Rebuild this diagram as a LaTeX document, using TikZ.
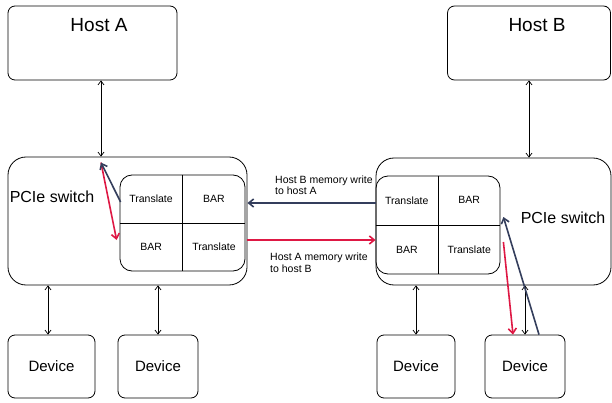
\documentclass[tikz,border=0pt]{standalone}
\usepackage{fontspec}
\setmainfont{Liberation Sans}
\usetikzlibrary{
    positioning,  % Relative positioning
    arrows.meta,  % Modern arrow tips
    calc          % Coordinate calculations
}
\definecolor{navyline}{RGB}{52,62,92}
\definecolor{redline}{RGB}{222,24,68}

\tikzset{
    box/.style={draw, line width=0.8pt, rounded corners=7pt, inner sep=0pt},
    switchbox/.style={draw, line width=0.8pt, rounded corners=18pt, inner sep=0pt},
    tablebox/.style={draw, line width=0.8pt, rounded corners=12pt, inner sep=0pt},
    cell/.style={font=\fontsize{10.5}{12}\selectfont},
    note/.style={font=\fontsize{10.5}{11.5}\selectfont, align=left, inner sep=0pt},
    link/.style={{Straight Barb[length=4pt,width=6pt]}-{Straight Barb[length=4pt,width=6pt]}, line width=0.7pt},
    flow/.style={-{Straight Barb[length=5pt,width=8pt]}, line width=1.6pt}
}

\begin{document}
\begin{tikzpicture}[x=1pt, y=-1pt]
    \useasboundingbox (0,0) rectangle (612,403);
    % Hosts
    \node[box, minimum width=169pt, minimum height=74pt] (hostA) at (92.5,43) {};
    \node[font=\fontsize{19}{21}\selectfont] (hostAtxt) at (99,25) {Host A};
    \node[box, minimum width=163pt, minimum height=74pt] (hostB) at (529,43) {};
    \node[font=\fontsize{19}{21}\selectfont] (hostBtxt) at (537,25) {Host B};

    % Switches with their translate tables
    \node[switchbox, minimum width=239pt, minimum height=128pt] (swA) at (127.5,221) {};
    \node[font=\fontsize{16}{18}\selectfont] (swAtxt) at (52,197) {PCIe switch};
    \node[tablebox, minimum width=125pt, minimum height=96pt] (tblA) at (182.5,223) {};
    \draw[line width=0.8pt] (tblA.north) -- (tblA.south);
    \draw[line width=0.8pt] (tblA.west) -- (tblA.east);
    \node[cell] (tblAtl) at ($(tblA.center)!0.5!(tblA.north west)$) {Translate};
    \node[cell] (tblAtr) at ($(tblA.center)!0.5!(tblA.north east)$) {BAR};
    \node[cell] (tblAbl) at ($(tblA.center)!0.5!(tblA.south west)$) {BAR};
    \node[cell] (tblAbr) at ($(tblA.center)!0.5!(tblA.south east)$) {Translate};

    \node[switchbox, minimum width=235pt, minimum height=127pt] (swB) at (493.5,221.5) {};
    \node[font=\fontsize{16}{18}\selectfont] (swBtxt) at (563,218) {PCIe switch};
    \node[tablebox, minimum width=124pt, minimum height=98pt] (tblB) at (438,225) {};
    \draw[line width=0.8pt] (tblB.north) -- (tblB.south);
    \draw[line width=0.8pt] (tblB.west) -- (tblB.east);
    \node[cell] (tblBtl) at ($(tblB.center)!0.5!(tblB.north west)$) {Translate};
    \node[cell] (tblBtr) at ($(tblB.center)!0.5!(tblB.north east)$) {BAR};
    \node[cell] (tblBbl) at ($(tblB.center)!0.5!(tblB.south west)$) {BAR};
    \node[cell] (tblBbr) at ($(tblB.center)!0.5!(tblB.south east)$) {Translate};

    % Devices
    \node[box, minimum width=87pt, minimum height=63pt, font=\fontsize{15}{17}\selectfont] (devA1) at (51.5,366.5) {Device};
    \node[box, minimum width=80pt, minimum height=63pt, font=\fontsize{15}{17}\selectfont] (devA2) at (158,366.5) {Device};
    \node[box, minimum width=78pt, minimum height=63pt, font=\fontsize{15}{17}\selectfont] (devB1) at (416,366.5) {Device};
    \node[box, minimum width=80pt, minimum height=63pt, font=\fontsize{15}{17}\selectfont] (devB2) at (525,366.5) {Device};

    % Plain links
    \draw[link] ($(hostA.south)+(8.5,0)$) -- ($(hostA.south |- swA.north)+(8.5,0)$);
    \draw[link] (hostB.south) -- (hostB.south |- swB.north);
    \draw[link] ($(devA1.north)+(-3.5,0)$) -- ($(devA1.north |- swA.south)+(-3.5,0)$);
    \draw[link] (devA2.north) -- (devA2.north |- swA.south);
    \draw[link] (devB1.north) -- (devB1.north |- swB.south);
    \draw[link] (devB2.north) -- (devB2.north |- swB.south);

    % Memory writes across the switches
    \draw[flow, navyline] ($(tblB.west)+(0,-22)$) -- ($(tblB.west -| swA.east)+(0,-22)$);
    \draw[flow, redline] ($(swA.east)+(0,19)$) -- ($(swA.east -| tblB.west)+(0,19)$);
    \node[note, anchor=south west] (noteB) at (275,195) {Host B memory write\\to host A};
    \node[note, anchor=north west] (noteA) at (270,253) {Host A memory write\\to host B};

    % Paths inside switch A
    \coordinate (portA) at ($(hostA.south |- swA.north)+(8.5,6)$);
    \draw[flow, redline] (portA) -- ($(tblA.west)+(-3,17)$);
    \draw[flow, navyline] ($(tblA.west)+(1,-21)$) -- (portA);

    % Paths inside switch B
    \draw[flow, redline] ($(tblB.east)+(3,17)$) -- ($(devB2.north)+(-12,0)$);
    \draw[flow, navyline] ($(devB2.north)+(14,0)$) -- ($(tblB.east)+(3,-8)$);
\end{tikzpicture}
\end{document}
